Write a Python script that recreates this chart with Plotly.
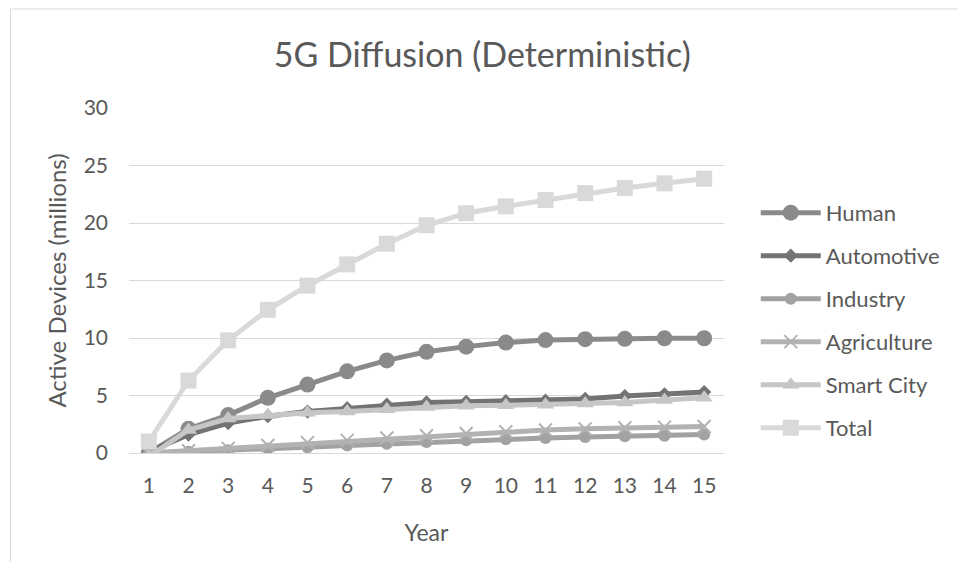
import plotly.graph_objects as go

years = list(range(1, 16))
year_labels = [str(y) for y in years]

human = [0.0, 2.1, 3.3, 4.8, 5.95, 7.1, 8.05, 8.8, 9.25, 9.6, 9.82, 9.9, 9.93, 9.97, 9.98]
automotive = [0.1, 1.6, 2.6, 3.2, 3.6, 3.9, 4.2, 4.4, 4.45, 4.5, 4.55, 4.7, 4.95, 5.1, 5.3]
industry = [0.0, 0.1, 0.25, 0.4, 0.5, 0.65, 0.8, 0.95, 1.1, 1.2, 1.3, 1.4, 1.45, 1.5, 1.6]
agriculture = [0.0, 0.2, 0.4, 0.65, 0.9, 1.1, 1.3, 1.5, 1.7, 1.85, 2.0, 2.1, 2.2, 2.25, 2.3]
smart_city = [-0.3, 2.0, 3.0, 3.3, 3.5, 3.6, 3.8, 4.0, 4.1, 4.15, 4.2, 4.3, 4.4, 4.6, 4.8]
total = [1.0, 6.3, 9.8, 12.45, 14.55, 16.4, 18.2, 19.8, 20.85, 21.45, 22.0, 22.6, 23.05, 23.45, 23.85]

series = [
    ("Human", human, "#8a8a8a", dict(symbol="circle", size=16)),
    ("Automotive", automotive, "#737373", dict(symbol="diamond", size=11)),
    ("Industry", industry, "#a2a2a2", dict(symbol="circle", size=12)),
    ("Agriculture", agriculture, "#b2b2b2", dict(symbol="x-thin", size=13, line=dict(width=2, color="#b2b2b2"))),
    ("Smart City", smart_city, "#c6c6c6", dict(symbol="triangle-up", size=15)),
    ("Total", total, "#d9d9d9", dict(symbol="square", size=16)),
]

FONT = "Lato, 'Open Sans', sans-serif"
TXT = "#595959"

fig = go.Figure()
for name, vals, color, mk in series:
    m = dict(color=color, **{k: v for k, v in mk.items()})
    fig.add_trace(go.Scatter(
        x=years, y=vals, name=name, mode="lines+markers",
        line=dict(color=color, width=5), marker=m,
        legendgroup=name,
    ))

fig.update_layout(
    width=957, height=562,
    margin=dict(l=129, r=231, t=108, b=109),
    paper_bgcolor="white", plot_bgcolor="white",
    font=dict(family=FONT, color=TXT, size=20),
    title=dict(text="5G Diffusion (Deterministic)", x=0.504, xanchor="center",
               y=1 - 55 / 562, yanchor="middle", yref="container",
               font=dict(family=FONT, size=34, color=TXT)),
    legend=dict(x=1.0534, xanchor="left", y=0.757, yanchor="top",
                font=dict(family=FONT, size=22, color=TXT),
                traceorder="grouped", tracegroupgap=11.4, itemwidth=60,
                bgcolor="rgba(0,0,0,0)"),
    showlegend=True,
)
fig.update_xaxes(
    range=[0.5, 15.5], tickmode="array", tickvals=years, ticktext=year_labels,
    showgrid=False, showline=False, zeroline=False, ticks="", ticklabelstandoff=18,
    title=dict(text="Year", font=dict(size=23, color=TXT), standoff=28),
    tickfont=dict(size=21, color=TXT), automargin=False,
)
fig.update_yaxes(
    range=[0, 30], dtick=5, showgrid=True, gridcolor="#d9d9d9", gridwidth=1,
    zeroline=True, zerolinecolor="#d9d9d9", zerolinewidth=1, showline=False, ticks="",
    ticklabelstandoff=20,
    title=dict(text="Active Devices (millions)", font=dict(size=24, color=TXT), standoff=10),
    tickfont=dict(size=21, color=TXT), automargin=False,
)
# chart-area border (top and left visible)
fig.add_shape(type="rect", xref="paper", yref="paper",
              x0=(10 - 129) / 597, x1=1.6, y0=-0.6, y1=(453 - 9) / 345,
              line=dict(color="#d9d9d9", width=1), fillcolor="rgba(0,0,0,0)", layer="below")

fig.write_html("out.html", config={"displayModeBar": False},
               post_script="document.body.style.margin='0';")
